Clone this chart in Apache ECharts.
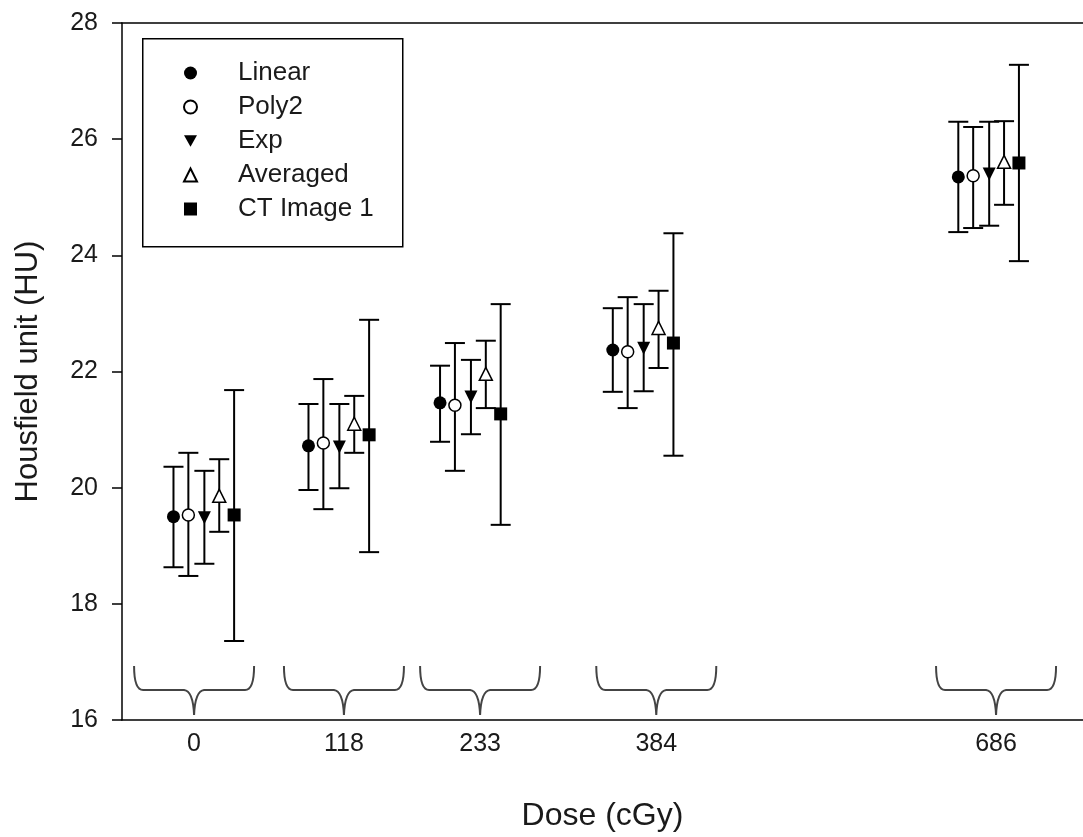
<!DOCTYPE html>
<html>
<head>
<meta charset="utf-8">
<script src="https://cdn.jsdelivr.net/npm/echarts@6/dist/echarts.min.js"></script>
<style>
html,body{margin:0;padding:0;background:#fff;}
#chart{width:1083px;height:837px;}
</style>
</head>
<body>
<div id="chart"></div>
<script>
// ---- data ----
const doses = [0, 118, 233, 384, 686];
const doseLabels = ['0', '118', '233', '384', '686'];
const labelPositions = [-9, 122, 241, 395, 692];
const seriesNames = ['Linear', 'Poly2', 'Exp', 'Averaged', 'CT Image 1'];

const linearMean = [19.50, 20.72, 21.46, 22.37, 25.35];
const linearLow  = [18.63, 19.96, 20.79, 21.65, 24.40];
const linearHigh = [20.36, 21.44, 22.10, 23.09, 26.30];

const poly2Mean = [19.53, 20.77, 21.42, 22.34, 25.37];
const poly2Low  = [18.48, 19.63, 20.29, 21.37, 24.47];
const poly2High = [20.60, 21.87, 22.49, 23.28, 26.21];

const expMean = [19.48, 20.70, 21.56, 22.40, 25.40];
const expLow  = [18.69, 19.99, 20.92, 21.66, 24.51];
const expHigh = [20.29, 21.44, 22.20, 23.16, 26.30];

const avgMean = [19.86, 21.10, 21.96, 22.75, 25.61];
const avgLow  = [19.24, 20.60, 21.37, 22.06, 24.87];
const avgHigh = [20.49, 21.58, 22.53, 23.39, 26.31];

const ctMean = [19.53, 20.91, 21.27, 22.49, 25.59];
const ctLow  = [17.36, 18.89, 19.36, 20.55, 23.90];
const ctHigh = [21.68, 22.89, 23.16, 24.38, 27.28];

const yTicks = [16, 18, 20, 22, 24, 26, 28];

// ---- styling / layout ----
const FONT = '"Liberation Sans", Arial, sans-serif';
const TXT = '#1a1a1a';
const offsets = [-27, -14, 0, 13, 26];
const DOWN_TRI = 'path://M0,0 L10,0 L5,9 Z';
const styles = [
  {symbol: 'circle', size: 13, rotate: 0, fill: '#000', legendIcon: 'circle'},
  {symbol: 'circle', size: 12, rotate: 0, fill: '#fff', legendIcon: 'circle'},
  {symbol: 'triangle', size: 13, rotate: 180, fill: '#000', legendIcon: DOWN_TRI},
  {symbol: 'triangle', size: 13, rotate: 0, fill: '#fff', legendIcon: 'triangle'},
  {symbol: 'rect', size: 13, rotate: 0, fill: '#000', legendIcon: 'rect'}
];
const groups = [
  [linearMean, linearLow, linearHigh],
  [poly2Mean, poly2Low, poly2High],
  [expMean, expLow, expHigh],
  [avgMean, avgLow, avgHigh],
  [ctMean, ctLow, ctHigh]
];

const series = [];
groups.forEach(function (g, si) {
  const mean = g[0], low = g[1], high = g[2];
  series.push({
    name: seriesNames[si] + ' err',
    type: 'custom',
    xAxisIndex: 0, yAxisIndex: 0,
    z: 2,
    silent: true,
    data: doses.map(function (d, i) { return [d + offsets[si], low[i], high[i]]; }),
    renderItem: function (params, api) {
      const x = api.value(0);
      const top = api.coord([x, api.value(2)]);
      const bot = api.coord([x, api.value(1)]);
      const hw = 10;
      const st = {stroke: '#000', lineWidth: 2, fill: null};
      return {
        type: 'group',
        children: [
          {type: 'line', shape: {x1: top[0], y1: top[1], x2: bot[0], y2: bot[1]}, style: st},
          {type: 'line', shape: {x1: top[0] - hw, y1: top[1], x2: top[0] + hw, y2: top[1]}, style: st},
          {type: 'line', shape: {x1: bot[0] - hw, y1: bot[1], x2: bot[0] + hw, y2: bot[1]}, style: st}
        ]
      };
    }
  });
  const s = styles[si];
  series.push({
    name: seriesNames[si],
    type: 'scatter',
    xAxisIndex: 0, yAxisIndex: 0,
    z: 5,
    symbol: s.symbol,
    symbolSize: s.size,
    symbolRotate: s.rotate,
    itemStyle: {color: s.fill, borderColor: '#000', borderWidth: s.fill === '#fff' ? 1.5 : 0, opacity: 1},
    data: doses.map(function (d, i) { return [d + offsets[si], mean[i]]; })
  });
});

// braces under each dose group
series.push({
  name: 'braces',
  type: 'custom',
  xAxisIndex: 0, yAxisIndex: 0,
  silent: true,
  z: 1,
  data: labelPositions.map(function (p) { return [p, 16]; }),
  renderItem: function (params, api) {
    const c = api.coord([api.value(0), api.value(1)]);
    const x = c[0], b = c[1];
    const w = 60, yTop = b - 54, yH = b - 30, yTip = b - 5;
    const path = 'M' + (x - w) + ',' + yTop +
      ' Q' + (x - w) + ',' + yH + ' ' + (x - w + 9) + ',' + yH +
      ' L' + (x - 10) + ',' + yH +
      ' Q' + (x - 1) + ',' + (yH + 1) + ' ' + x + ',' + yTip +
      ' Q' + (x + 1) + ',' + (yH + 1) + ' ' + (x + 10) + ',' + yH +
      ' L' + (x + w - 9) + ',' + yH +
      ' Q' + (x + w) + ',' + yH + ' ' + (x + w) + ',' + yTop;
    return {
      type: 'path',
      shape: {pathData: path},
      style: {stroke: '#444', lineWidth: 2, fill: null}
    };
  }
});

const chart = echarts.init(document.getElementById('chart'), null, {renderer: 'canvas'});
chart.setOption({
  animation: false,
  backgroundColor: '#fff',
  grid: {left: 122, right: 0, top: 23, bottom: 117, containLabel: false},
  xAxis: [{
    type: 'value',
    min: -72, max: 768,
    name: 'Dose (cGy)',
    nameLocation: 'middle',
    nameGap: 80,
    nameTextStyle: {fontSize: 32, color: TXT, fontFamily: FONT},
    axisLine: {show: true, onZero: false, lineStyle: {color: '#000', width: 1.5}},
    axisTick: {show: false},
    splitLine: {show: false},
    axisLabel: {
      show: true,
      customValues: labelPositions,
      formatter: function (v) {
        const i = labelPositions.indexOf(v);
        return i >= 0 ? doseLabels[i] : '';
      },
      fontSize: 25, color: TXT, fontFamily: FONT, margin: 12
    }
  }, {
    type: 'value',
    position: 'top',
    min: -72, max: 768,
    axisLine: {show: true, onZero: false, lineStyle: {color: '#000', width: 1.5}},
    axisTick: {show: false},
    axisLabel: {show: false},
    splitLine: {show: false}
  }],
  yAxis: {
    type: 'value',
    position: 'left',
    min: yTicks[0], max: yTicks[yTicks.length - 1], interval: 2,
    name: 'Housfield unit (HU)',
    nameLocation: 'middle',
    nameGap: 78,
    nameTextStyle: {fontSize: 31, color: TXT, fontFamily: FONT},
    axisLine: {show: true, onZero: false, lineStyle: {color: '#000', width: 1.5}},
    axisTick: {show: true, inside: false, length: 10, lineStyle: {color: '#000', width: 1.5}},
    splitLine: {show: false},
    axisLabel: {fontSize: 25, color: TXT, fontFamily: FONT, margin: 24}
  },
  legend: {
    data: seriesNames.map(function (n, i) { return {name: n, icon: styles[i].legendIcon}; }),
    orient: 'vertical',
    left: 183, top: 60,
    itemWidth: 13, itemHeight: 13,
    itemGap: 8,
    padding: 0,
    selectedMode: false,
    textStyle: {fontSize: 26, color: TXT, fontFamily: FONT, lineHeight: 26, padding: [0, 0, 0, 36]}
  },
  graphic: [{
    type: 'rect',
    left: 142, top: 38,
    shape: {width: 260, height: 208},
    style: {fill: '#fff', stroke: '#000', lineWidth: 1.5},
    z: -1
  }],
  series: series
});
</script>
</body>
</html>
